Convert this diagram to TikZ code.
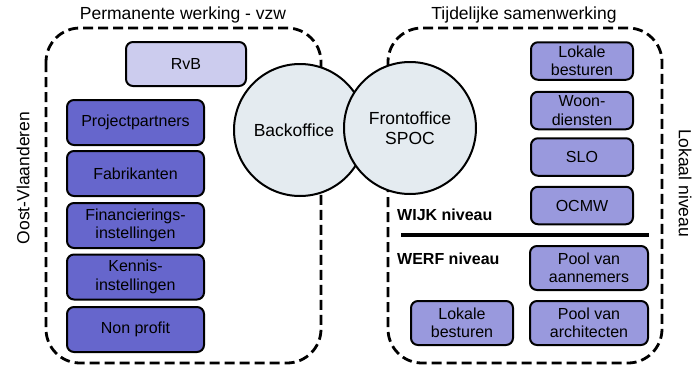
\documentclass[tikz,border=0pt]{standalone}
\usepackage{fontspec}
\setmainfont{Liberation Sans}
\definecolor{darkfill}{HTML}{6666CC}
\definecolor{lightfill}{HTML}{CCCCEE}
\definecolor{midfill}{HTML}{9999DD}
\definecolor{circfill}{HTML}{E4EBF0}
\begin{document}
\begin{tikzpicture}[x=1pt,y=-1pt,
  frame/.style={draw, line width=2.8pt, dash pattern=on 10pt off 5pt, rounded corners=34pt},
  boxbase/.style={draw, line width=2pt, rounded corners=7pt, align=center, inner sep=0pt,
     font=\fontsize{16}{18.5}\selectfont},
  darkbox/.style={boxbase, fill=darkfill, minimum width=137pt, minimum height=45pt},
  lightbox/.style={boxbase, fill=lightfill, minimum width=120pt, minimum height=44pt},
  midbox/.style={boxbase, fill=midfill, minimum width=102pt, minimum height=37.5pt},
  widebox/.style={boxbase, fill=midfill, minimum width=118pt, minimum height=44pt},
  office/.style={draw, line width=2pt, fill=circfill, circle, minimum size=132pt, inner sep=0pt},
  title/.style={font=\fontsize{17.5}{20}\selectfont},
  level/.style={font=\bfseries\fontsize{16}{18}\selectfont, anchor=west, inner sep=0pt}]
\useasboundingbox (0,0) rectangle (694,367);
% frames
\draw[frame] (46,28) rectangle (321,363);
\draw[frame] (388,28) rectangle (662,363);
% titles
\node[title] (tperm) at (183,15) {Permanente werking - vzw};
\node[title] (ttijd) at (524,15) {Tijdelijke samenwerking};
\node[title, rotate=90] (oost) at (23,178) {Oost-Vlaanderen};
\node[title, rotate=-90] (lokaal) at (685,183) {Lokaal niveau};
% left boxes
\node[lightbox] (rvb) at (186,64) {RvB};
\node[darkbox] (pp) at (135.5,122.5) {Projectpartners};
\node[darkbox] (fab) at (135.5,173.5) {Fabrikanten};
\node[darkbox] (fin) at (135.5,225.5) {Financierings-\\instellingen};
\node[darkbox] (ken) at (135.5,277) {Kennis-\\instellingen};
\node[darkbox] (np) at (135.5,329.5) {Non profit};
% circles
\node[office] (back) at (300,130) {};
\node[font=\fontsize{17.5}{20}\selectfont] (backt) at (294,130) {Backoffice};
\node[office, align=center, font=\fontsize{17.5}{20}\selectfont] (front) at (410,128) {Frontoffice\\SPOC};
% right boxes
\node[midbox] (lok1) at (582,61) {Lokale\\besturen};
\node[midbox] (woon) at (582,110.5) {Woon-\\diensten};
\node[midbox] (slo) at (582,157) {SLO};
\node[midbox] (ocmw) at (582,205.5) {OCMW};
\node[widebox] (pa) at (589,268) {Pool van\\aannemers};
\node[widebox] (parch) at (589,323) {Pool van\\architecten};
\node[widebox, minimum width=102pt] (lok2) at (462,323) {Lokale\\besturen};
% levels
\coordinate (ls) at (401,235);
\coordinate (le) at (649,235);
\draw[line width=4pt] (ls) -- (le);
\node[level] (wijk) at (397,215) {WIJK niveau};
\node[level] (werf) at (397,259) {WERF niveau};
\end{tikzpicture}
\end{document}
